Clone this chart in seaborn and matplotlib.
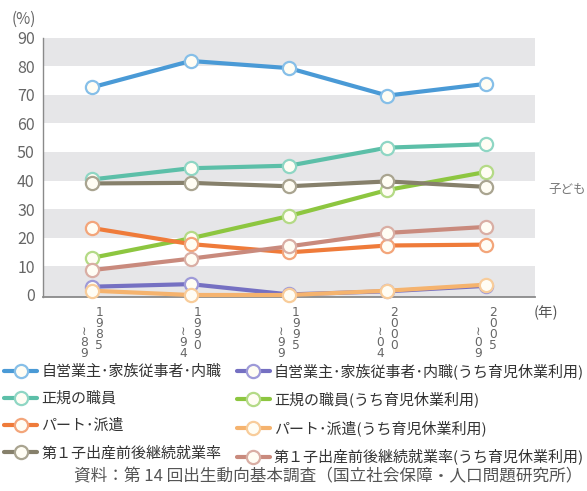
import matplotlib
matplotlib.use("Agg")
import matplotlib.pyplot as plt
from matplotlib.lines import Line2D
import pandas as pd
import seaborn as sns

# 子どもの出生年（5年区切り）
period_start = ["1985", "1990", "1995", "2000", "2005"]
period_end = ["89", "94", "99", "04", "09"]

# 第1子出産前後の就業継続率（%）
self_employed = [72.6, 81.8, 79.3, 69.7, 73.8]
self_employed_leave = [2.9, 3.8, 0.2, 1.3, 3.2]
regular = [40.4, 44.3, 45.2, 51.5, 52.7]
regular_leave = [13.0, 19.8, 27.6, 36.7, 43.0]
part_time = [23.4, 17.8, 14.9, 17.3, 17.6]
part_time_leave = [1.5, 0.0, 0.0, 1.5, 3.6]
continuation = [39.0, 39.2, 38.0, 39.7, 37.8]
continuation_leave = [8.7, 12.7, 17.0, 21.7, 23.8]

series_labels = [
    "自営業主･家族従事者･内職",
    "自営業主･家族従事者･内職(うち育児休業利用)",
    "正規の職員",
    "正規の職員(うち育児休業利用)",
    "パート･派遣",
    "パート･派遣(うち育児休業利用)",
    "第１子出産前後継続就業率",
    "第１子出産前後継続就業率(うち育児休業利用)",
]
series_values = [
    self_employed, self_employed_leave, regular, regular_leave,
    part_time, part_time_leave, continuation, continuation_leave,
]
line_colors = ["#4a9ad6", "#7570c2", "#5cbfa8", "#8dc640",
               "#ef7b3a", "#f5b36e", "#86806b", "#c98a7d"]
edge_colors = ["#86bfe8", "#9e9ad8", "#8fd6c4", "#b4da86",
               "#f3a57a", "#f8cc9a", "#a9a490", "#d9aea4"]

sns.set_theme(style="white")
plt.rcParams["font.family"] = ["Noto Sans CJK JP", "DejaVu Sans"]

fig = plt.figure(figsize=(5.87, 4.91), dpi=100)
ax = fig.add_axes([43 / 587, 1 - 297 / 491, (535 - 43) / 587, (297 - 37.5) / 491])

y_bottom = -0.7
ax.set_xlim(-0.5, 4.5)
ax.set_ylim(y_bottom, 90)

# 横縞の背景
band_color = "#e6e6e8"
for lo in range(0, 90, 20):
    ax.axhspan(y_bottom if lo == 0 else lo, lo + 10, color=band_color, lw=0, zorder=0)

x_pos = list(range(len(period_start)))
face = "#fffdf4"
for label, values, lc, ec in zip(series_labels, series_values, line_colors, edge_colors):
    df = pd.DataFrame({"x": x_pos, "y": values})
    sns.lineplot(data=df, x="x", y="y", ax=ax, color=lc, lw=3.0,
                 marker="o", markersize=9.5, markerfacecolor=face,
                 markeredgecolor=ec, markeredgewidth=1.6, zorder=3,
                 clip_on=False, legend=False)

ax.set_xlabel("")
ax.set_ylabel("")
ax.set_xticks(x_pos)
ax.set_xticklabels([])
ax.set_yticks(range(0, 91, 10))
ax.tick_params(axis="y", length=0, pad=6, labelsize=11.5, labelcolor="#666666")
ax.tick_params(axis="x", length=0)
for s in ["top", "right"]:
    ax.spines[s].set_visible(False)
ax.spines["left"].set_color("#8a8a8a")
ax.spines["left"].set_linewidth(1.0)
ax.spines["bottom"].set_color("#8a8a8a")
ax.spines["bottom"].set_linewidth(1.3)

# 縦書きの年次ラベル（右列：開始年、左列：～終了年）
tick_kw = dict(xycoords=("data", "axes fraction"), textcoords="offset points",
               va="top", ha="center", fontsize=8.8, color="#666666",
               linespacing=0.8, family=["DejaVu Sans"])
for i, (s, e) in enumerate(zip(period_start, period_end)):
    ax.annotate("\n".join(s), xy=(i, 0), xytext=(5.0, -6.5), **tick_kw)
    ax.annotate("\n".join("≀" + e), xy=(i, 0), xytext=(-5.5, -20.0), **tick_kw)

fig.text(24 / 587, 1 - 19 / 491, "(%)", ha="center", va="center",
         fontsize=11, color="#666666")
fig.text(546 / 587, 1 - 313 / 491, "(年)", ha="center", va="center",
         fontsize=10.5, color="#555555")
fig.text(548 / 587, 1 - 190 / 491, "子ども", ha="left", va="center",
         fontsize=9, color="#777777")

handles = [
    Line2D([], [], color=lc, lw=3.0, marker="o", markersize=9.5,
           markerfacecolor=face, markeredgecolor=ec, markeredgewidth=1.6)
    for lc, ec in zip(line_colors, edge_colors)
]
order = [0, 2, 4, 6, 1, 3, 5, 7]
fig.legend([handles[k] for k in order], [series_labels[k] for k in order],
           ncol=2, loc="upper left", bbox_to_anchor=(4 / 587, 1 - 363 / 491),
           frameon=False, fontsize=10.8, handlelength=2.2, handletextpad=0.3,
           columnspacing=1.0, labelspacing=0.85, borderpad=0, borderaxespad=0,
           labelcolor="#333333")

fig.text(582 / 587, 1 - 477 / 491,
         "資料：第 14 回出生動向基本調査（国立社会保障・人口問題研究所）",
         ha="right", va="center", fontsize=12, color="#555555")

fig.savefig("out.png", dpi=100)
